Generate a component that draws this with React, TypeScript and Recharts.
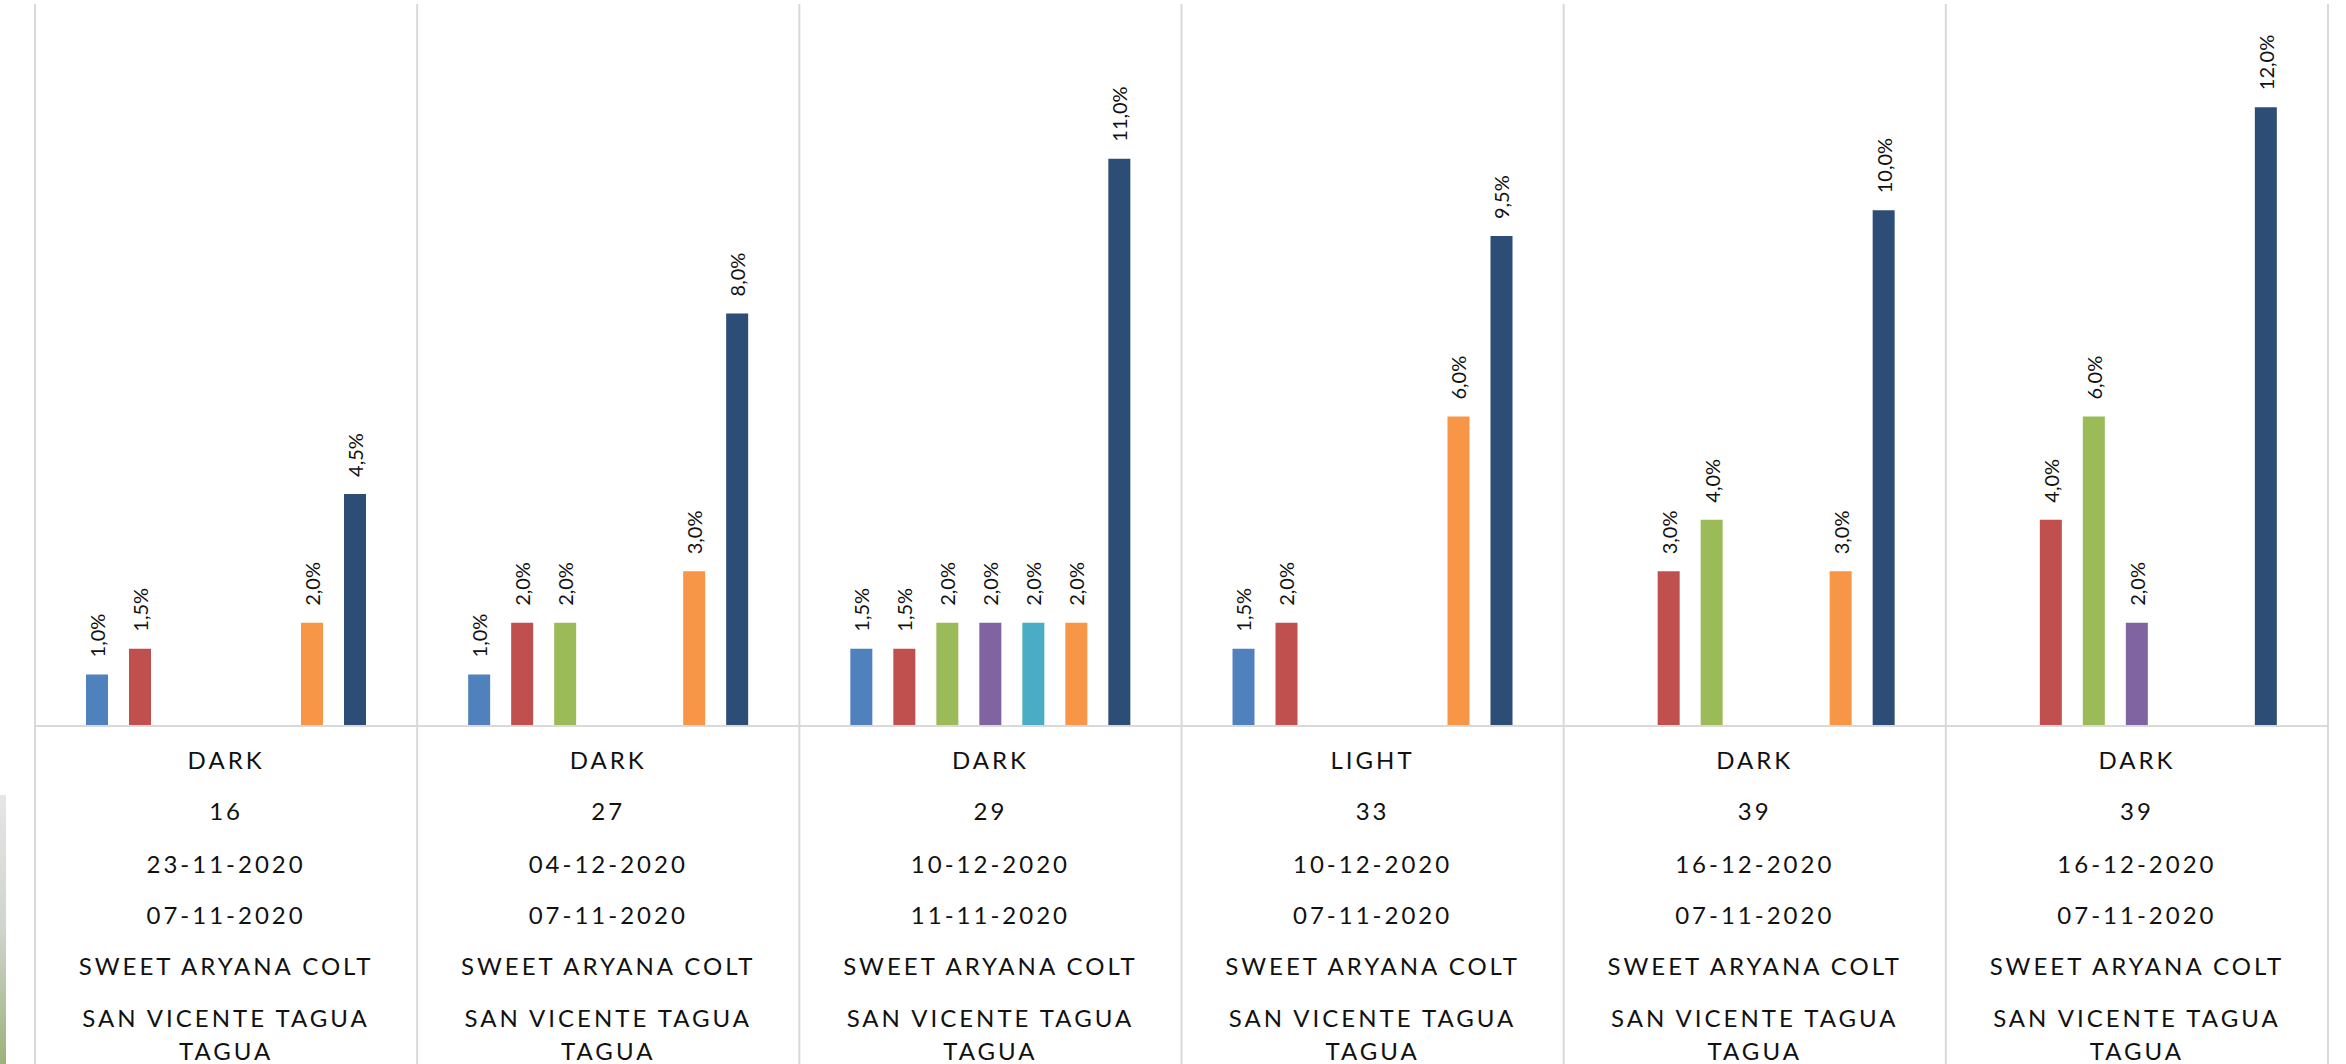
import { BarChart, Bar, XAxis, YAxis, LabelList } from 'recharts';

// category levels (top to bottom under the axis)
const shades = ['DARK', 'DARK', 'DARK', 'LIGHT', 'DARK', 'DARK'];
const days = ['16', '27', '29', '33', '39', '39'];
const inspectionDates = ['23-11-2020', '04-12-2020', '10-12-2020', '10-12-2020', '16-12-2020', '16-12-2020'];
const packingDates = ['07-11-2020', '07-11-2020', '11-11-2020', '07-11-2020', '07-11-2020', '07-11-2020'];
const varieties = ['SWEET ARYANA COLT', 'SWEET ARYANA COLT', 'SWEET ARYANA COLT', 'SWEET ARYANA COLT', 'SWEET ARYANA COLT', 'SWEET ARYANA COLT'];
const origins = ['SAN VICENTE TAGUA TAGUA', 'SAN VICENTE TAGUA TAGUA', 'SAN VICENTE TAGUA TAGUA', 'SAN VICENTE TAGUA TAGUA', 'SAN VICENTE TAGUA TAGUA', 'SAN VICENTE TAGUA TAGUA'];

// series values in %, null = no bar
const serie1 = [1.0, 1.0, 1.5, 1.5, null, null];
const serie2 = [1.5, 2.0, 1.5, 2.0, 3.0, 4.0];
const serie3 = [null, 2.0, 2.0, null, 4.0, 6.0];
const serie4 = [null, null, 2.0, null, null, 2.0];
const serie5 = [null, null, 2.0, null, null, null];
const serie6 = [2.0, 3.0, 2.0, 6.0, 3.0, null];
const serie7 = [4.5, 8.0, 11.0, 9.5, 10.0, 12.0];

const SERIES = [
    { key: 's1', values: serie1, color: '#4F81BD' },
    { key: 's2', values: serie2, color: '#C0504D' },
    { key: 's3', values: serie3, color: '#9BBB59' },
    { key: 's4', values: serie4, color: '#8064A2' },
    { key: 's5', values: serie5, color: '#4BACC6' },
    { key: 's6', values: serie6, color: '#F79646' },
    { key: 's7', values: serie7, color: '#2C4D75' },
];

const data = shades.map((shade, i) => {
    const row: Record<string, any> = { cat: `${shade}|${days[i]}|${i}`, idx: i };
    SERIES.forEach(s => { row[s.key] = s.values[i]; });
    return row;
});

const FONT = 'Lato, "Open Sans", sans-serif';
const GRID = '#d9d9d9';

const fmt = (v: number) => v.toFixed(1).replace('.', ',') + '%';

const ValueLabel = (props: any) => {
    const { x, y, width, value } = props;
    if (value === null || value === undefined) return null;
    const cx = x + width / 2;
    const ty = y - 17;
    return (
        <text
            x={cx}
            y={ty}
            transform={`rotate(-90, ${cx}, ${ty})`}
            textAnchor="start"
            dominantBaseline="central"
            fontSize={20}
            fontFamily={FONT}
            fill="#111"
        >
            {fmt(value)}
        </text>
    );
};

const CategoryTick = (props: any) => {
    const { x, y, payload, index } = props;
    const i = payload?.index ?? index;
    const half = payload?.offset || 191;
    const lines = [
        { t: shades[i], dy: 33 },
        { t: days[i], dy: 84 },
        { t: inspectionDates[i], dy: 137 },
        { t: packingDates[i], dy: 188 },
        { t: varieties[i], dy: 239 },
        { t: 'SAN VICENTE TAGUA', dy: 291 },
        { t: origins[i].replace('SAN VICENTE TAGUA ', ''), dy: 324 },
    ];
    return (
        <g>
            {/* group separators run through the plot and the label area */}
            <line x1={x - half} x2={x - half} y1={4} y2={1064} stroke={GRID} strokeWidth={2} />
            {i === shades.length - 1 && (
                <line x1={x + half} x2={x + half} y1={4} y2={1064} stroke={GRID} strokeWidth={2} />
            )}
            {lines.map((l, k) => (
                <text
                    key={k}
                    x={x}
                    y={y + l.dy}
                    textAnchor="middle"
                    dominantBaseline="central"
                    fontSize={24}
                    fontFamily={FONT}
                    letterSpacing={3}
                    fill="#111"
                >
                    {l.t}
                </text>
            ))}
        </g>
    );
};

export default function App() {
    return (
        <div style={{ position: 'absolute', left: 0, top: 0, width: 2346, height: 1064, background: '#fff', overflow: 'hidden' }}>
            {/* sliver of slide photo on the left edge */}
            <div style={{ position: 'absolute', left: 0, top: 795, width: 6, height: 269, background: 'linear-gradient(#e6e6e6, #cfd4cc 50%, #9cb27a)' }} />
            <BarChart
                width={2346}
                height={1064}
                data={data}
                margin={{ top: 4, right: 18, left: 35, bottom: 0 }}
                barSize={22}
                barGap={21}
            >
                <XAxis
                    dataKey="cat"
                    height={338}
                    interval={0}
                    tickLine={false}
                    tickSize={0}
                    tickMargin={0}
                    axisLine={{ stroke: GRID, strokeWidth: 2 }}
                    tick={<CategoryTick />}
                />
                <YAxis hide domain={[0, 14]} />
                {SERIES.map(s => (
                    <Bar key={s.key} dataKey={s.key} fill={s.color} isAnimationActive={false}>
                        <LabelList dataKey={s.key} content={<ValueLabel />} />
                    </Bar>
                ))}
            </BarChart>
        </div>
    );
}
